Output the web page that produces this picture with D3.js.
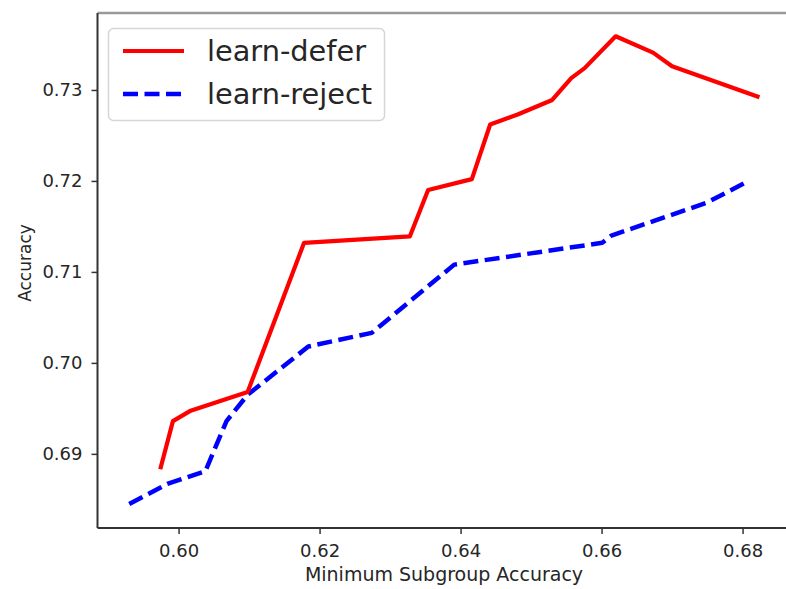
<!DOCTYPE html>
<html>
<head>
<meta charset="utf-8">
<script src="https://cdn.jsdelivr.net/npm/d3@7"></script>
<style>
  body { margin: 0; background: #fff; }
  text { font-family: "DejaVu Sans", sans-serif; fill: #262626; }
</style>
</head>
<body>
<div id="chart"></div>
<script>
// values
var deferX = [0.5974, 0.5992, 0.6016, 0.6098, 0.6178, 0.6328, 0.6354, 0.6416, 0.6442,
              0.6481, 0.6530, 0.6557, 0.6576, 0.6620, 0.6673, 0.6700, 0.6824];
var deferY = [0.6883, 0.6936, 0.6947, 0.6968, 0.7132, 0.7139, 0.7190, 0.7202, 0.7262,
              0.7273, 0.7289, 0.7313, 0.7324, 0.7359, 0.7341, 0.7326, 0.7292];
var rejectX = [0.5930, 0.5984, 0.6038, 0.6068, 0.6098, 0.6184, 0.6274, 0.6391, 0.6601,
               0.6614, 0.6749, 0.6806];
var rejectY = [0.6845, 0.6867, 0.6881, 0.6936, 0.6965, 0.7018, 0.7033, 0.7108, 0.7132,
               0.7140, 0.7176, 0.7199];
var xTicks = [0.60, 0.62, 0.64, 0.66, 0.68];
var yTicks = [0.69, 0.70, 0.71, 0.72, 0.73];
var seriesNames = ["learn-defer", "learn-reject"];

var width = 786, height = 589;
var plot = { left: 97.5, right: 790, top: 13, bottom: 528 };

var svg = d3.select("#chart").append("svg")
  .attr("width", width)
  .attr("height", height);

var x = d3.scaleLinear().domain([0.5885, 0.68673]).range([plot.left, plot.right]);
var y = d3.scaleLinear().domain([0.68185, 0.73846]).range([plot.bottom, plot.top]);

// axes
var xAxis = d3.axisBottom(x).tickValues(xTicks).tickFormat(d3.format(".2f"))
  .tickSize(6).tickPadding(10);
var yAxis = d3.axisLeft(y).tickValues(yTicks).tickFormat(d3.format(".2f"))
  .tickSize(6).tickPadding(9);

var gx = svg.append("g").attr("transform", `translate(0,${plot.bottom})`).call(xAxis);
var gy = svg.append("g").attr("transform", `translate(${plot.left},0)`).call(yAxis);
[gx, gy].forEach(function (g) {
  g.select(".domain").remove();
  g.selectAll(".tick line").attr("stroke", "#333").attr("stroke-width", 1.5);
  g.selectAll(".tick text").attr("font-size", 18).style("fill", "#262626");
});

// spines
svg.append("line").attr("x1", plot.left).attr("x2", width).attr("y1", plot.top).attr("y2", plot.top)
  .attr("stroke", "#999").attr("stroke-width", 2.5);
svg.append("line").attr("x1", plot.left).attr("x2", plot.left).attr("y1", plot.top).attr("y2", plot.bottom)
  .attr("stroke", "#333").attr("stroke-width", 2);
svg.append("line").attr("x1", plot.left).attr("x2", width).attr("y1", plot.bottom).attr("y2", plot.bottom)
  .attr("stroke", "#333").attr("stroke-width", 2);

// lines
var line = d3.line().x(function (d) { return x(d[0]); }).y(function (d) { return y(d[1]); });

svg.append("path")
  .datum(d3.zip(rejectX, rejectY))
  .attr("d", line)
  .attr("fill", "none")
  .attr("stroke", "#0000ff")
  .attr("stroke-width", 4.5)
  .attr("stroke-dasharray", "15,6.5")
  .attr("stroke-linejoin", "round");

svg.append("path")
  .datum(d3.zip(deferX, deferY))
  .attr("d", line)
  .attr("fill", "none")
  .attr("stroke", "#ff0000")
  .attr("stroke-width", 4.2)
  .attr("stroke-linejoin", "round");

// axis labels
svg.append("text")
  .attr("x", 444).attr("y", 581)
  .attr("text-anchor", "middle")
  .attr("font-size", 19)
  .text("Minimum Subgroup Accuracy");

svg.append("text")
  .attr("transform", "translate(31,263) rotate(-90)")
  .attr("text-anchor", "middle")
  .attr("font-size", 17)
  .text("Accuracy");

// legend
var legend = svg.append("g");
legend.append("rect")
  .attr("x", 108.5).attr("y", 28.5)
  .attr("width", 276).attr("height", 92)
  .attr("rx", 5).attr("ry", 5)
  .attr("fill", "#fff").attr("fill-opacity", 0.85)
  .attr("stroke", "#d6d6d6").attr("stroke-width", 1.5);

var legendColors = ["#ff0000", "#0000ff"];
var legendDash = [null, "15,6.5"];
seriesNames.forEach(function (name, i) {
  var ly = 51 + i * 43;
  legend.append("line")
    .attr("x1", 123).attr("x2", 184).attr("y1", ly).attr("y2", ly)
    .attr("stroke", legendColors[i])
    .attr("stroke-width", i === 0 ? 4.2 : 4.5)
    .attr("stroke-dasharray", legendDash[i]);
  legend.append("text")
    .attr("x", 207).attr("y", ly)
    .attr("dy", "0.35em")
    .attr("font-size", 28.8)
    .text(name);
});
</script>
</body>
</html>
